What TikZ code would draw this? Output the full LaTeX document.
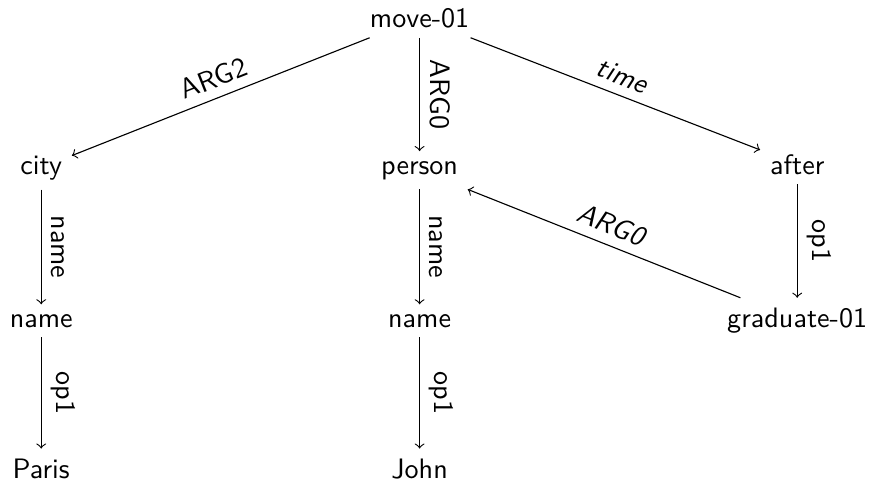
\documentclass[tikz,border=0pt]{standalone}
\usepackage{tikz}
\renewcommand{\familydefault}{\sfdefault}

\begin{document}
\begin{tikzpicture}[concept/.style={anchor=base}, role/.style={sloped, above}]
	\useasboundingbox (0, 0) rectangle (10.875, 6.05);

	\node[concept] (move)   at (5.245, 5.71)   {move-01};
	\node[concept] (city)   at (0.515, 3.875)  {city};
	\node[concept] (person) at (5.245, 3.875)  {person};
	\node[concept] (after)  at (9.965, 3.875)  {after};
	\node[concept] (cname)  at (0.515, 1.96)   {name};
	\node[concept] (pname)  at (5.245, 1.96)   {name};
	\node[concept] (grad)   at (9.965, 1.96)   {graduate-01};
	\node[concept] (paris)  at (0.515, 0.075)  {Paris};
	\node[concept] (john)   at (5.245, 0.075)  {John};

	\path[->] (move) edge node[role] {ARG2} (city);
	\path[->] (move) edge node[role] {ARG0} (person);
	\path[->] (move) edge node[role] {\slshape time} (after);

	\path[->] (city) edge node[role] {name} (cname);
	\path[->] (cname) edge node[role] {op1} (paris);

	\path[->] (person) edge node[role] {name} (pname);
	\path[->] (pname) edge node[role] {op1} (john);

	\path[->] (after) edge node[role] {op1} (grad);
	\path[->] (grad) edge node[role] {\slshape ARG0} (person);

\end{tikzpicture}
\end{document}
